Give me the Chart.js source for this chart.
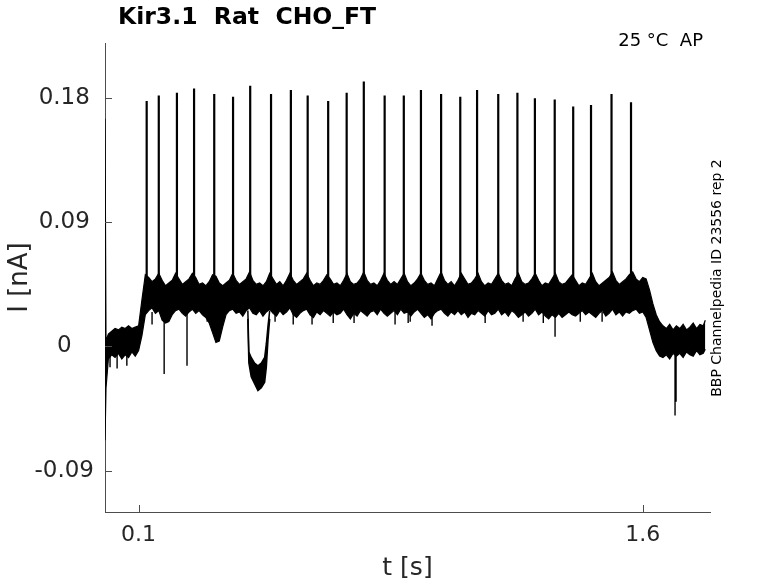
<!DOCTYPE html>
<html>
<head>
<meta charset="utf-8">
<script src="https://cdn.jsdelivr.net/npm/chart.js@4.4.0/dist/chart.umd.min.js"></script>
<style>
  html, body { margin: 0; padding: 0; background: #fff; }
  #wrap { width: 778px; height: 583px; }
</style>
</head>
<body>
<div id="wrap"><canvas id="trace" width="778" height="583"></canvas></div>
<script>
const chartTitle = 'Kir3.1  Rat  CHO_FT';
const conditionText = '25 °C  AP';
const sideText = 'BBP Channelpedia ID 23556 rep 2';

const xTicks = [0.1, 1.6];
const yTicks = [-0.09, 0, 0.09, 0.18];

// bande de bruit : temps, bord haut, bord bas
const bandT = [
  0.00, 0.003, 0.01, 0.02, 0.03, 0.04, 0.05, 0.06, 0.07, 0.08, 0.09,
  0.10, 0.11, 0.12, 0.13, 0.14, 0.15, 0.16, 0.17, 0.18, 0.19,
  0.20, 0.21, 0.22, 0.23, 0.24, 0.25, 0.26, 0.27, 0.28, 0.29,
  0.30, 0.31, 0.32, 0.33, 0.34, 0.35, 0.36, 0.37, 0.38, 0.39,
  0.40, 0.41, 0.42, 0.43, 0.44, 0.45, 0.46, 0.47, 0.48, 0.49,
  0.50, 0.51, 0.52, 0.53, 0.54, 0.55, 0.56, 0.57, 0.58, 0.59,
  0.60, 0.61, 0.62, 0.63, 0.64, 0.65, 0.66, 0.67, 0.68, 0.69,
  0.70, 0.71, 0.72, 0.73, 0.74, 0.75, 0.76, 0.77, 0.78, 0.79,
  0.80, 0.81, 0.82, 0.83, 0.84, 0.85, 0.86, 0.87, 0.88, 0.89,
  0.90, 0.91, 0.92, 0.93, 0.94, 0.95, 0.96, 0.97, 0.98, 0.99,
  1.00, 1.01, 1.02, 1.03, 1.04, 1.05, 1.06, 1.07, 1.08, 1.09,
  1.10, 1.11, 1.12, 1.13, 1.14, 1.15, 1.16, 1.17, 1.18, 1.19,
  1.20, 1.21, 1.22, 1.23, 1.24, 1.25, 1.26, 1.27, 1.28, 1.29,
  1.30, 1.31, 1.32, 1.33, 1.34, 1.35, 1.36, 1.37, 1.38, 1.39,
  1.40, 1.41, 1.42, 1.43, 1.44, 1.45, 1.46, 1.47, 1.48, 1.49,
  1.50, 1.51, 1.52, 1.53, 1.54, 1.55, 1.56, 1.57, 1.58, 1.59,
  1.60, 1.61, 1.62, 1.63, 1.64, 1.65, 1.66, 1.67, 1.68, 1.69,
  1.70, 1.71, 1.72, 1.73, 1.74, 1.75, 1.76, 1.77, 1.78, 1.786
];
const bandHigh = [
  0.165, 0.004, 0.009, 0.011, 0.013, 0.012, 0.014, 0.013, 0.015, 0.013, 0.014,
  0.015, 0.034, 0.052, 0.050, 0.047, 0.049, 0.053, 0.048, 0.044, 0.046,
  0.048, 0.053, 0.049, 0.045, 0.047, 0.049, 0.053, 0.050, 0.045, 0.046,
  0.044, 0.047, 0.052, 0.051, 0.046, 0.044, 0.046, 0.048, 0.053, 0.048,
  0.045, 0.047, 0.049, 0.054, 0.048, 0.045, 0.046, 0.044, 0.047, 0.053,
  0.049, 0.045, 0.047, 0.044, 0.048, 0.053, 0.048, 0.045, 0.047, 0.049,
  0.053, 0.048, 0.044, 0.046, 0.045, 0.048, 0.052, 0.049, 0.045, 0.046,
  0.044, 0.048, 0.053, 0.047, 0.045, 0.046, 0.049, 0.054, 0.048, 0.045,
  0.046, 0.044, 0.048, 0.053, 0.048, 0.045, 0.047, 0.045, 0.049, 0.053,
  0.047, 0.044, 0.046, 0.049, 0.053, 0.048, 0.045, 0.046, 0.044, 0.049,
  0.054, 0.048, 0.045, 0.047, 0.044, 0.048, 0.053, 0.049, 0.045, 0.046,
  0.049, 0.053, 0.047, 0.044, 0.046, 0.045, 0.049, 0.053, 0.048, 0.045,
  0.046, 0.044, 0.049, 0.053, 0.047, 0.045, 0.046, 0.049, 0.053, 0.048,
  0.044, 0.046, 0.045, 0.049, 0.053, 0.047, 0.045, 0.046, 0.049, 0.052,
  0.048, 0.044, 0.046, 0.045, 0.049, 0.053, 0.047, 0.044, 0.046, 0.048,
  0.050, 0.054, 0.048, 0.045, 0.047, 0.049, 0.052, 0.054, 0.049, 0.047,
  0.050, 0.049, 0.041, 0.031, 0.023, 0.018, 0.015, 0.013, 0.016, 0.012,
  0.015, 0.013, 0.016, 0.012, 0.014, 0.017, 0.013, 0.016, 0.015, 0.019
];
const bandLow = [
  -0.068, -0.030, -0.009, -0.006, -0.008, -0.005, -0.009, -0.006, -0.008, -0.004, -0.007,
  -0.003, 0.008, 0.023, 0.026, 0.028, 0.024, 0.026, 0.019, 0.017, 0.018,
  0.023, 0.026, 0.027, 0.024, 0.022, 0.025, 0.027, 0.024, 0.026, 0.023,
  0.021, 0.017, 0.010, 0.003, 0.004, 0.014, 0.023, 0.026, 0.027, 0.024,
  0.025, 0.022, 0.026, 0.028, 0.024, 0.023, 0.026, 0.022, 0.025, 0.027,
  0.024, 0.022, 0.026, 0.023, 0.025, 0.028, 0.023, 0.021, 0.024, 0.026,
  0.027, 0.023, 0.021, 0.025, 0.023, 0.026, 0.024, 0.022, 0.025, 0.023,
  0.024, 0.027, 0.023, 0.020, 0.024, 0.022, 0.026, 0.024, 0.022, 0.025,
  0.026, 0.023, 0.027, 0.024, 0.022, 0.024, 0.026, 0.023, 0.027, 0.024,
  0.025, 0.022, 0.025, 0.027, 0.024, 0.021, 0.023, 0.020, 0.024, 0.026,
  0.027, 0.024, 0.022, 0.025, 0.023, 0.026, 0.023, 0.025, 0.021, 0.024,
  0.023, 0.026, 0.024, 0.022, 0.026, 0.023, 0.024, 0.027, 0.023, 0.025,
  0.022, 0.026, 0.024, 0.021, 0.023, 0.025, 0.022, 0.024, 0.027, 0.023,
  0.025, 0.022, 0.020, 0.023, 0.021, 0.024, 0.021, 0.023, 0.025, 0.023,
  0.022, 0.024, 0.026, 0.023, 0.025, 0.023, 0.021, 0.024, 0.026, 0.022,
  0.024, 0.027, 0.023, 0.025, 0.022, 0.025, 0.024, 0.026, 0.027, 0.024,
  0.025, 0.021, 0.012, 0.003, -0.003, -0.007, -0.008, -0.006, -0.009, -0.005,
  -0.007, -0.005, -0.008, -0.004, -0.006, -0.007, -0.003, -0.006, -0.005, -0.002
];

// creux large vers 0.45 s
const dipT = [0.425, 0.428, 0.435, 0.445, 0.455, 0.465, 0.475, 0.480, 0.485, 0.490];
const dipHigh = [0.026, -0.004, -0.008, -0.012, -0.014, -0.012, -0.008, 0.002, 0.015, 0.026];
const dipLow = [0.020, -0.012, -0.022, -0.027, -0.032, -0.030, -0.026, -0.015, 0.005, 0.020];

// potentiels d'action
const spikeT = [
  0.124, 0.160, 0.214, 0.265, 0.325, 0.381, 0.432, 0.494, 0.553, 0.603,
  0.664, 0.719, 0.770, 0.832, 0.889, 0.940, 1.000, 1.057, 1.107, 1.170,
  1.227, 1.279, 1.338, 1.393, 1.446, 1.507, 1.565
];
const spikePeak = [
  0.178, 0.182, 0.184, 0.187, 0.183, 0.181, 0.189, 0.183, 0.186, 0.182,
  0.178, 0.184, 0.192, 0.182, 0.182, 0.186, 0.183, 0.181, 0.186, 0.183,
  0.184, 0.180, 0.179, 0.174, 0.175, 0.183, 0.177
];
const spikeFoot = 0.045;

// pointes vers le bas
const dropT = [
  0.015, 0.036, 0.065, 0.140, 0.176, 0.244, 0.304, 0.506, 0.560, 0.616,
  0.679, 0.741, 0.863, 0.902, 0.908, 0.973, 1.131, 1.244, 1.304, 1.339,
  1.414, 1.479, 1.696, 1.699
];
const dropTop = [
  -0.005, -0.005, -0.005, 0.025, 0.025, 0.025, 0.024, 0.025, 0.025, 0.025,
  0.025, 0.025, 0.025, 0.025, 0.025, 0.025, 0.025, 0.025, 0.025, 0.025,
  0.025, 0.025, -0.005, -0.005
];
const dropMin = [
  -0.015, -0.016, -0.014, 0.016, -0.020, -0.014, 0.018, 0.018, 0.016, 0.016,
  0.017, 0.017, 0.016, 0.017, 0.018, 0.015, 0.017, 0.018, 0.017, 0.007,
  0.018, 0.018, -0.050, -0.040
];

function segments(ts, from, to) {
  const pts = [];
  ts.forEach((t, i) => {
    pts.push({x: t, y: from[i]}, {x: t, y: to[i]}, {x: t, y: null});
  });
  return pts;
}

function pairs(ts, vals) {
  return ts.map((t, i) => ({x: t, y: vals[i]}));
}

const FONT = '"DejaVu Sans", sans-serif';
const AXIS = '#4d4d4d';
const TXT = '#262626';

const decorations = {
  id: 'decorations',
  afterDraw(chart) {
    const {ctx, chartArea, scales} = chart;
    ctx.save();
    ctx.strokeStyle = AXIS;
    ctx.lineWidth = 1;
    xTicks.forEach(v => {
      const px = Math.round(scales.x.getPixelForValue(v)) + 0.5;
      ctx.beginPath();
      ctx.moveTo(px, chartArea.bottom);
      ctx.lineTo(px, chartArea.bottom - 7);
      ctx.stroke();
    });
    yTicks.forEach(v => {
      const py = Math.round(scales.y.getPixelForValue(v)) + 0.5;
      ctx.beginPath();
      ctx.moveTo(chartArea.left, py);
      ctx.lineTo(chartArea.left + 7, py);
      ctx.stroke();
    });

    ctx.fillStyle = '#000';
    ctx.textBaseline = 'middle';
    ctx.textAlign = 'left';
    ctx.font = 'bold 23.5px ' + FONT;
    ctx.fillText(chartTitle, 118, 18);

    ctx.textAlign = 'right';
    ctx.font = '18px ' + FONT;
    ctx.fillText(conditionText, 703, 41);

    ctx.translate(717, 278);
    ctx.rotate(-Math.PI / 2);
    ctx.textAlign = 'center';
    ctx.font = '14px ' + FONT;
    ctx.fillText(sideText, 0, 0);
    ctx.restore();
  }
};

new Chart(document.getElementById('trace'), {
  type: 'line',
  data: {
    datasets: [
      {
        data: pairs(bandT, bandHigh),
        borderColor: '#000',
        backgroundColor: '#000',
        borderWidth: 1.2,
        fill: '+1'
      },
      {
        data: pairs(bandT, bandLow),
        borderColor: '#000',
        borderWidth: 1.2,
        fill: false
      },
      {
        data: pairs(dipT, dipHigh),
        borderColor: '#000',
        backgroundColor: '#000',
        borderWidth: 1.5,
        fill: '+1'
      },
      {
        data: pairs(dipT, dipLow),
        borderColor: '#000',
        borderWidth: 1.5,
        fill: false
      },
      {
        data: segments(spikeT, spikePeak.map(() => spikeFoot), spikePeak),
        borderColor: '#000',
        borderWidth: 2.2,
        spanGaps: false,
        fill: false
      },
      {
        data: segments(dropT, dropTop, dropMin),
        borderColor: '#000',
        borderWidth: 1.4,
        spanGaps: false,
        fill: false
      }
    ]
  },
  options: {
    responsive: false,
    animation: false,
    events: [],
    layout: { padding: { top: 43, right: 68, left: 0, bottom: 0 } },
    elements: { point: { radius: 0 }, line: { tension: 0 } },
    plugins: { legend: { display: false }, tooltip: { enabled: false } },
    scales: {
      x: {
        type: 'linear',
        min: 0,
        max: 1.8,
        afterBuildTicks: s => { s.ticks = xTicks.map(v => ({value: v})); },
        afterFit: s => { s.height = 71; },
        grid: { display: true, drawOnChartArea: false, drawTicks: false },
        border: { color: AXIS, width: 1 },
        ticks: { color: TXT, font: { family: FONT, size: 22 }, padding: 10, maxRotation: 0 },
        title: { display: true, text: 't [s]', color: TXT, font: { family: FONT, size: 25 }, padding: { top: 0, bottom: 0 } }
      },
      y: {
        type: 'linear',
        min: -0.12,
        max: 0.22,
        afterBuildTicks: s => { s.ticks = yTicks.map(v => ({value: v})); },
        afterFit: s => { s.width = 105; },
        grid: { display: true, drawOnChartArea: false, drawTicks: false },
        border: { color: AXIS, width: 1 },
        ticks: { color: TXT, font: { family: FONT, size: 23 }, padding: 11, crossAlign: 'center', callback: v => String(v) },
        title: { display: true, text: 'I [nA]', color: TXT, font: { family: FONT, size: 26 }, padding: { top: 5, bottom: 0 } }
      }
    }
  },
  plugins: [decorations]
});
</script>
</body>
</html>
